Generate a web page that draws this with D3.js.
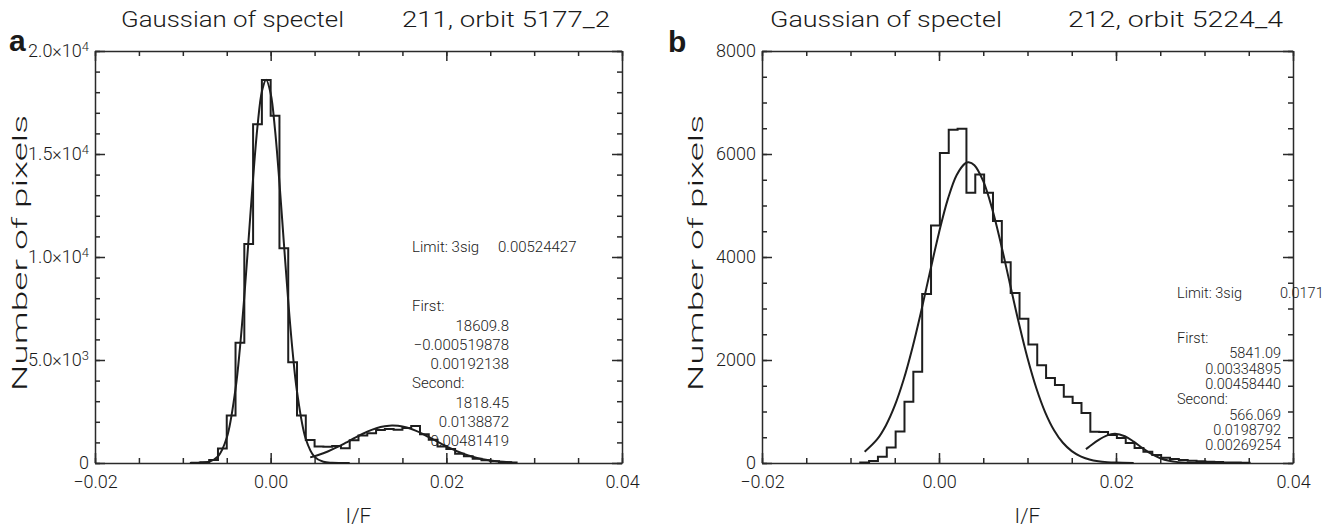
<!DOCTYPE html>
<html>
<head>
<meta charset="utf-8">
<script src="https://cdn.jsdelivr.net/npm/d3@7"></script>
<style>
  body { margin: 0; background: #fff; }
  svg { display: block; }
  text { font-family: Roboto, "DejaVu Sans", sans-serif; font-weight: 300; fill: #1a1a1a; }
  .panel-letter { font-family: "Liberation Sans", Arial, sans-serif; font-weight: 700; }
  .axis path, .axis line { stroke: #2a2a2a; stroke-width: 1.5; }
</style>
</head>
<body>
<svg id="chart"></svg>
<script>
// ---------- data ----------
const binWidth = 0.001;
const xTicks = [-0.02, 0.00, 0.02, 0.04];

// panel a
const aTitle = ['Gaussian of spectel', '211, orbit 5177_2'];
const aYTicks = [0, 5000, 10000, 15000, 20000];
const aYTickLabels = [['0', ''], ['5.0×10', '3'], ['1.0×10', '4'], ['1.5×10', '4'], ['2.0×10', '4']];
const aBinStart = -0.009;
const aCounts = [10, 40, 150, 700, 2300, 5840, 10630, 16450, 18590, 16860,
                 10420, 4890, 2300, 1120, 800, 790, 830, 720, 1100, 1330,
                 1450, 1600, 1650, 1620, 1700, 1800, 1400, 1130, 800, 680,
                 450, 330, 210, 130, 80, 40, 20];
const aFirstFit = [[-0.0092, 1], [-0.008, 9], [-0.007, 62], [-0.006, 317], [-0.005, 1223],
                   [-0.004, 3601], [-0.0035, 5581], [-0.003, 8081], [-0.0025, 10935], [-0.002, 13827],
                   [-0.0015, 16337], [-0.001, 18037], [-0.00052, 18610], [0.0, 17940], [0.0005, 16161],
                   [0.001, 13603], [0.0015, 10701], [0.002, 7865], [0.0025, 5401], [0.003, 3467],
                   [0.004, 1165], [0.005, 298], [0.006, 58], [0.007, 9], [0.008, 1], [0.009, 0]];
const aSecondFit = [[0.0045, 272], [0.0055, 399], [0.0065, 560], [0.0075, 754], [0.0085, 972],
                    [0.0095, 1201], [0.0105, 1420], [0.0115, 1608], [0.0125, 1744], [0.0135, 1813],
                    [0.0139, 1818], [0.0145, 1804], [0.0155, 1719], [0.0165, 1569], [0.0175, 1372],
                    [0.0185, 1149], [0.0195, 921], [0.0205, 708], [0.0215, 521], [0.0225, 367],
                    [0.0235, 247], [0.0245, 160], [0.0255, 99], [0.0265, 59], [0.0275, 33]];
const aLimit = '0.00524427';
const aFirst = ['18609.8', '\u22120.000519878', '0.00192138'];
const aSecond = ['1818.45', '0.0138872', '0.00481419'];

// panel b
const bTitle = ['Gaussian of spectel', '212, orbit 5224_4'];
const bYTicks = [0, 2000, 4000, 6000, 8000];
const bYTickLabels = [['0', ''], ['2000', ''], ['4000', ''], ['6000', ''], ['8000', '']];
const bBinStart = -0.0089;
const bCounts = [10, 40, 120, 300, 610, 1190, 1770, 3280, 4610, 6020,
                 6470, 6490, 5250, 5600, 5250, 4700, 3900, 3300, 2800, 2300,
                 1900, 1650, 1515, 1288, 1165, 971, 608, 600, 544, 485,
                 388, 291, 220, 155, 103, 80, 60, 45, 35, 25,
                 18, 12, 8, 5];
const bFirstFit = [[-0.0084, 219], [-0.007, 457], [-0.006, 730], [-0.005, 1113], [-0.004, 1616],
                   [-0.003, 2239], [-0.002, 2957], [-0.001, 3724], [0.0, 4473], [0.001, 5123],
                   [0.002, 5594], [0.003, 5824], [0.00335, 5841], [0.004, 5783], [0.005, 5474],
                   [0.006, 4942], [0.007, 4254], [0.008, 3491], [0.009, 2732], [0.010, 2039],
                   [0.011, 1452], [0.012, 985], [0.013, 637], [0.014, 393], [0.015, 231],
                   [0.016, 130], [0.017, 69], [0.018, 35], [0.019, 17], [0.020, 8], [0.022, 1]];
const bSecondFit = [[0.0166, 270], [0.017, 320], [0.018, 444], [0.019, 537], [0.0199, 566],
                    [0.021, 519], [0.022, 415], [0.023, 289], [0.024, 175], [0.025, 93],
                    [0.026, 43], [0.027, 17], [0.028, 6], [0.030, 1], [0.034, 0]];
const bLimit = '0.0171';
const bFirst = ['5841.09', '0.00334895', '0.00458440'];
const bSecond = ['566.069', '0.0198792', '0.00269254'];

// ---------- chart ----------
const svg = d3.select('#chart').attr('width', 1331).attr('height', 527);

class HistPanel {

    constructor(_config, _data) {
        this.config = _config;
        this.data = _data;
        this.initVis();
        this.renderVis();
    }

    initVis() {
        let vis = this;
        const c = vis.config;

        vis.xScale = d3.scaleLinear().domain([-0.02, 0.04]).range([c.left, c.right]);
        vis.yScale = d3.scaleLinear().domain(c.yDomain).range([c.bottom, c.top]);

        vis.chart = svg.append('g');

        // minor ticks on all four sides
        const minorX = vis.xScale.ticks(12);
        const minorY = vis.yScale.ticks(c.yMinorCount);
        vis.chart.append('g').attr('class', 'axis')
            .attr('transform', `translate(0,${c.bottom})`)
            .call(d3.axisBottom(vis.xScale).tickValues(minorX).tickSize(-5).tickFormat(''))
            .call(g => g.select('.domain').remove());
        vis.chart.append('g').attr('class', 'axis')
            .attr('transform', `translate(0,${c.top})`)
            .call(d3.axisTop(vis.xScale).tickValues(minorX).tickSize(-5).tickFormat(''))
            .call(g => g.select('.domain').remove());
        vis.chart.append('g').attr('class', 'axis')
            .attr('transform', `translate(${c.left},0)`)
            .call(d3.axisLeft(vis.yScale).tickValues(minorY).tickSize(-5).tickFormat(''))
            .call(g => g.select('.domain').remove());
        vis.chart.append('g').attr('class', 'axis')
            .attr('transform', `translate(${c.right},0)`)
            .call(d3.axisRight(vis.yScale).tickValues(minorY).tickSize(-5).tickFormat(''))
            .call(g => g.select('.domain').remove());

        // major ticks + labels
        vis.chart.append('g').attr('class', 'axis x-axis')
            .attr('transform', `translate(0,${c.bottom})`)
            .call(d3.axisBottom(vis.xScale).tickValues(xTicks).tickSize(-10).tickSizeOuter(0)
                .tickPadding(12).tickFormat(d3.format('.2f')))
            .call(g => g.selectAll('text').style('font-size', '18px').style('font-family', null));
        vis.chart.append('g').attr('class', 'axis')
            .attr('transform', `translate(0,${c.top})`)
            .call(d3.axisTop(vis.xScale).tickValues(xTicks).tickSize(-10).tickSizeOuter(0).tickFormat(''));

        const yAxisG = vis.chart.append('g').attr('class', 'axis y-axis')
            .attr('transform', `translate(${c.left},0)`)
            .call(d3.axisLeft(vis.yScale).tickValues(c.yTicks).tickSize(-10).tickSizeOuter(0)
                .tickPadding(6).tickFormat(''));
        vis.chart.append('g').attr('class', 'axis')
            .attr('transform', `translate(${c.right},0)`)
            .call(d3.axisRight(vis.yScale).tickValues(c.yTicks).tickSize(-10).tickSizeOuter(0).tickFormat(''));

        // y labels with superscript exponents
        yAxisG.selectAll('.tick text')
            .style('font-size', '18px')
            .style('font-family', null)
            .each(function(d, i) {
                const lab = c.yTickLabels[i];
                const t = d3.select(this);
                t.append('tspan').text(lab[0]);
                if (lab[1]) {
                    t.append('tspan').attr('dy', '-0.45em').style('font-size', '13px').text(lab[1]);
                }
            });

        // panel letter
        svg.append('text')
            .attr('class', 'panel-letter')
            .attr('x', c.letterX)
            .attr('y', c.letterY)
            .style('font-size', '30px')
            .text(c.letter);

        // title
        svg.append('text')
            .attr('x', c.title1X)
            .attr('y', 27)
            .attr('textLength', c.title1Len)
            .attr('lengthAdjust', 'spacingAndGlyphs')
            .style('font-size', '22px')
            .text(c.title[0]);
        svg.append('text')
            .attr('x', c.title2End - c.title2Len)
            .attr('y', 27)
            .attr('textLength', c.title2Len)
            .attr('lengthAdjust', 'spacingAndGlyphs')
            .style('font-size', '22px')
            .text(c.title[1]);

        // axis titles
        svg.append('text')
            .attr('x', (c.left + c.right) / 2)
            .attr('y', 523)
            .attr('text-anchor', 'middle')
            .style('font-size', '21px')
            .text('I/F');

        svg.append('text')
            .attr('transform', `translate(${c.yTitleX},${(c.top + c.bottom) / 2 - 4}) rotate(-90)`)
            .attr('text-anchor', 'middle')
            .attr('textLength', 276)
            .attr('lengthAdjust', 'spacingAndGlyphs')
            .style('font-size', '20px')
            .text('Number of pixels');
    }

    renderVis() {
        let vis = this;
        const c = vis.config;
        const d = vis.data;

        // histogram as step outline
        const steps = [[d.binStart, 0]];
        d.counts.forEach((v, i) => {
            const x0 = d.binStart + i * binWidth;
            steps.push([x0, v], [x0 + binWidth, v]);
        });
        steps.push([d.binStart + d.counts.length * binWidth, 0]);

        const stepLine = d3.line()
            .x(p => vis.xScale(p[0]))
            .y(p => vis.yScale(p[1]));

        vis.chart.append('path')
            .attr('d', stepLine(steps))
            .attr('fill', 'none')
            .attr('stroke', '#1e1e1e')
            .attr('stroke-width', 2);

        const fitLine = d3.line()
            .x(p => vis.xScale(p[0]))
            .y(p => vis.yScale(p[1]))
            .curve(d3.curveCatmullRom);

        [d.firstFit, d.secondFit].forEach(f => {
            vis.chart.append('path')
                .attr('d', fitLine(f))
                .attr('fill', 'none')
                .attr('stroke', '#1e1e1e')
                .attr('stroke-width', 2);
        });

        // fit parameter annotations
        const notes = svg.append('g').style('font-size', c.noteSize + 'px');
        notes.append('text').attr('x', c.noteX).attr('y', c.limitY)
            .attr('dy', '0.35em').text('Limit:  3sig');
        notes.append('text').attr('x', c.limitValX).attr('y', c.limitY)
            .attr('dy', '0.35em').text(d.limit);

        let y = c.firstY;
        notes.append('text').attr('x', c.noteX).attr('y', y).attr('dy', '0.35em').text('First:');
        d.first.forEach(s => {
            y += c.noteStep;
            notes.append('text').attr('x', c.numRight).attr('y', y).attr('dy', '0.35em')
                .attr('text-anchor', 'end').text(s);
        });
        y += c.noteStep;
        notes.append('text').attr('x', c.noteX).attr('y', y).attr('dy', '0.35em').text('Second:');
        d.second.forEach(s => {
            y += c.noteStep;
            notes.append('text').attr('x', c.numRight).attr('y', y).attr('dy', '0.35em')
                .attr('text-anchor', 'end').text(s);
        });
    }
}

new HistPanel({
    left: 95, right: 622, top: 51, bottom: 463,
    yDomain: [0, 20000], yTicks: aYTicks, yTickLabels: aYTickLabels, yMinorCount: 20,
    letter: 'a', letterX: 9, letterY: 51,
    title: aTitle, title1X: 121, title1Len: 223, title2End: 610, title2Len: 208,
    yTitleX: 27,
    noteSize: 15, noteX: 412, limitValX: 498, limitY: 247, firstY: 306, noteStep: 19.3, numRight: 509
}, { binStart: aBinStart, counts: aCounts, firstFit: aFirstFit, secondFit: aSecondFit,
     limit: aLimit, first: aFirst, second: aSecond });

new HistPanel({
    left: 762, right: 1293, top: 51, bottom: 463,
    yDomain: [0, 8000], yTicks: bYTicks, yTickLabels: bYTickLabels, yMinorCount: 16,
    letter: 'b', letterX: 668, letterY: 52,
    title: bTitle, title1X: 770, title1Len: 232, title2End: 1283, title2Len: 215,
    yTitleX: 703,
    noteSize: 14.5, noteX: 1177, limitValX: 1280, limitY: 293, firstY: 338, noteStep: 15.3, numRight: 1281
}, { binStart: bBinStart, counts: bCounts, firstFit: bFirstFit, secondFit: bSecondFit,
     limit: bLimit, first: bFirst, second: bSecond });
</script>
</body>
</html>
